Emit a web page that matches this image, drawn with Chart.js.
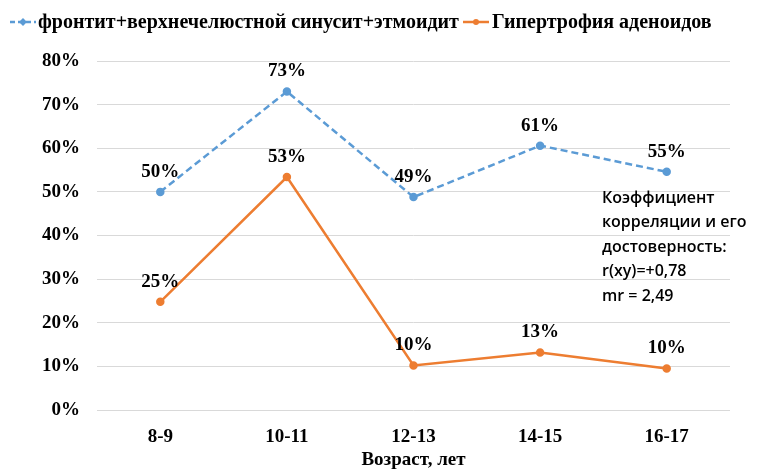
<!DOCTYPE html>
<html>
<head>
<meta charset="utf-8">
<script src="https://cdn.jsdelivr.net/npm/chart.js@4"></script>
<style>
  html, body { margin: 0; padding: 0; background: #fff; }
  #wrap { width: 757px; height: 470px; }
</style>
</head>
<body>
<div id="wrap"><canvas id="chart"></canvas></div>
<script>
const ageGroups = ['8-9', '10-11', '12-13', '14-15', '16-17'];
const sinusitis = [50, 73, 48.8, 60.6, 54.6];
const sinusitisLabels = ['50%', '73%', '49%', '61%', '55%'];
const adenoids = [24.8, 53.4, 10.2, 13.2, 9.5];
const adenoidsLabels = ['25%', '53%', '10%', '13%', '10%'];
const yTicks = [0, 10, 20, 30, 40, 50, 60, 70, 80];
const noteLines = ['Коэффициент', 'корреляции и его', 'достоверность:', 'r(xy)=+0,78', 'mr = 2,49'];

const serif = '"Liberation Serif", "Times New Roman", serif';
const blue = '#5B9BD5';
const orange = '#ED7D31';

// value labels, legend and the note block
const extras = {
    id: 'extras',
    afterDatasetsDraw(chart) {
        const ctx = chart.ctx;
        ctx.save();
        ctx.font = 'bold 19px ' + serif;
        ctx.fillStyle = '#000';
        ctx.textAlign = 'center';
        ctx.textBaseline = 'middle';
        [sinusitisLabels, adenoidsLabels].forEach((labels, i) => {
            chart.getDatasetMeta(i).data.forEach((pt, j) => {
                ctx.fillText(labels[j], pt.x, pt.y - 20);
            });
        });

        // legend
        ctx.textAlign = 'left';
        ctx.font = 'bold 20px ' + serif;
        const ly = 22;
        ctx.lineWidth = 2.5;
        ctx.strokeStyle = blue;
        ctx.setLineDash([5, 3]);
        ctx.beginPath(); ctx.moveTo(10, ly); ctx.lineTo(36, ly); ctx.stroke();
        ctx.setLineDash([]);
        ctx.fillStyle = blue;
        ctx.beginPath();
        ctx.moveTo(23, ly - 4); ctx.lineTo(27, ly); ctx.lineTo(23, ly + 4); ctx.lineTo(19, ly);
        ctx.closePath(); ctx.fill();
        ctx.fillStyle = '#000';
        ctx.fillText('фронтит+верхнечелюстной синусит+этмоидит', 38, ly + 1);

        ctx.strokeStyle = orange;
        ctx.beginPath(); ctx.moveTo(463, ly); ctx.lineTo(489, ly); ctx.stroke();
        ctx.fillStyle = orange;
        ctx.beginPath(); ctx.arc(476, ly, 3, 0, Math.PI * 2); ctx.fill();
        ctx.fillStyle = '#000';
        ctx.fillText('Гипертрофия аденоидов', 492, ly + 1);

        // correlation note
        ctx.font = '600 16px "Open Sans", "Liberation Sans", sans-serif';
        ctx.fillStyle = '#000';
        noteLines.forEach((t, i) => ctx.fillText(t, 602, 198 + i * 24.5));
        ctx.restore();
    }
};

new Chart(document.getElementById('chart'), {
    type: 'line',
    data: {
        labels: ageGroups,
        datasets: [{
            label: 'фронтит+верхнечелюстной синусит+этмоидит',
            data: sinusitis,
            borderColor: blue,
            backgroundColor: blue,
            borderWidth: 2.5,
            borderDash: [7, 4],
            pointRadius: 3,
            tension: 0
        }, {
            label: 'Гипертрофия аденоидов',
            data: adenoids,
            borderColor: orange,
            backgroundColor: orange,
            borderWidth: 2.5,
            pointRadius: 3,
            tension: 0
        }]
    },
    options: {
        responsive: true,
        maintainAspectRatio: false,
        animation: false,
        layout: { padding: { top: 61, right: 27, left: 0, bottom: 0 } },
        plugins: {
            legend: { display: false },
            tooltip: { enabled: false }
        },
        scales: {
            x: {
                offset: true,
                grid: { display: false, drawTicks: false },
                border: { display: false },
                afterFit: scale => { scale.height = 60; },
                ticks: {
                    color: '#000',
                    font: { family: serif, size: 19, weight: 'bold' },
                    padding: 16
                },
                title: {
                    display: true,
                    text: 'Возраст, лет',
                    color: '#000',
                    font: { family: serif, size: 19, weight: 'bold' },
                    padding: { top: 4, bottom: -1 }
                }
            },
            y: {
                min: 0,
                max: 80,
                afterFit: scale => { scale.width = 97; },
                afterBuildTicks: scale => { scale.ticks = yTicks.map(v => ({ value: v })); },
                grid: { color: '#d9d9d9', lineWidth: 1, drawTicks: false },
                border: { display: false },
                ticks: {
                    color: '#000',
                    font: { family: serif, size: 19, weight: 'bold' },
                    padding: 17,
                    callback: v => v + '%'
                }
            }
        }
    },
    plugins: [extras]
});
</script>
</body>
</html>
